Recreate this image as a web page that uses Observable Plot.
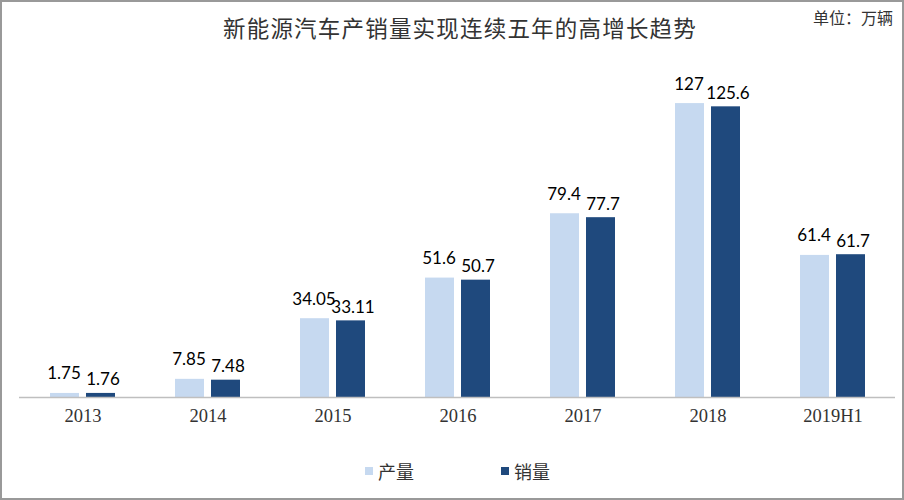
<!DOCTYPE html>
<html>
<head>
<meta charset="utf-8">
<script src="https://cdn.jsdelivr.net/npm/d3@7"></script>
<script src="https://cdn.jsdelivr.net/npm/@observablehq/plot@0.6"></script>
<style>
  html, body { margin: 0; padding: 0; background: #fff; }
  #wrap { position: relative; width: 904px; height: 500px; overflow: hidden; background: #fff; }
  #frame { position: absolute; left: 0; top: 0; width: 904px; height: 500px; box-sizing: border-box; border: 2px solid #999; pointer-events: none; }
  #title { position: absolute; left: 8px; width: 904px; top: 12px; text-align: center; font-family: "Noto Sans CJK SC", sans-serif; font-size: 22.5px; letter-spacing: 1.2px; color: #333; line-height: 30px; }
  #unit { position: absolute; right: 11px; top: 6px; font-family: "Noto Sans CJK SC", sans-serif; font-size: 16px; color: #333; line-height: 22px; }
  #chart { position: absolute; left: 0; top: 50px; }
  .leg { position: absolute; top: 458px; font-family: "Noto Sans CJK SC", sans-serif; font-size: 18px; color: #333; line-height: 26px; display: flex; align-items: center; }
  .sw { width: 8px; height: 8px; margin-right: 5px; }
</style>
</head>
<body>
<div id="wrap">
  <div id="title">新能源汽车产销量实现连续五年的高增长趋势</div>
  <div id="unit">单位：万辆</div>
  <div id="chart"></div>
  <div class="leg" style="left:365px"><div class="sw" style="background:#c6d9f0"></div>产量</div>
  <div class="leg" style="left:501px"><div class="sw" style="background:#1f497d"></div>销量</div>
  <div id="frame"></div>
</div>
<script>
const years = ["2013", "2014", "2015", "2016", "2017", "2018", "2019H1"];
const production = [1.75, 7.85, 34.05, 51.6, 79.4, 127, 61.4];
const sales = [1.76, 7.48, 33.11, 50.7, 77.7, 125.6, 61.7];
const seriesNames = ["产量", "销量"];
const seriesColors = ["#c6d9f0", "#1f497d"];

const prodData = years.map((y, i) => ({year: y, value: production[i], top: Math.max(production[i], sales[i])}));
const salesData = years.map((y, i) => ({year: y, value: sales[i]}));

const labelFont = {fontFamily: "Lato, 'Liberation Sans', sans-serif", fontSize: 17, fill: "#000"};

const chart = Plot.plot({
  width: 904,
  height: 390,
  marginLeft: 19,
  marginRight: 9,
  marginTop: 23,
  marginBottom: 43,
  x: {domain: years, padding: 0, axis: null},
  y: {domain: [0, 140], axis: null},
  marks: [
    Plot.barY(prodData, {x: "year", y: "value", fill: seriesColors[0], insetLeft: 30, insetRight: 66}),
    Plot.barY(salesData, {x: "year", y: "value", fill: seriesColors[1], insetLeft: 66, insetRight: 30}),
    Plot.ruleY([0], {stroke: "#bfbfbf", strokeWidth: 1.5}),
    Plot.text(prodData, {x: "year", y: "top", text: d => String(d.value), dx: -19, dy: -14, lineAnchor: "bottom", ...labelFont}),
    Plot.text(salesData, {x: "year", y: "value", text: d => String(d.value), dx: 20, dy: -8, lineAnchor: "bottom", ...labelFont}),
    Plot.text(years, {x: d => d, text: d => d, frameAnchor: "bottom", lineAnchor: "top", dy: 11,
      fontFamily: "'Liberation Serif', 'DejaVu Serif', serif", fontSize: 18.5, fill: "#333"})
  ]
});
document.getElementById("chart").appendChild(chart);
</script>
</body>
</html>
